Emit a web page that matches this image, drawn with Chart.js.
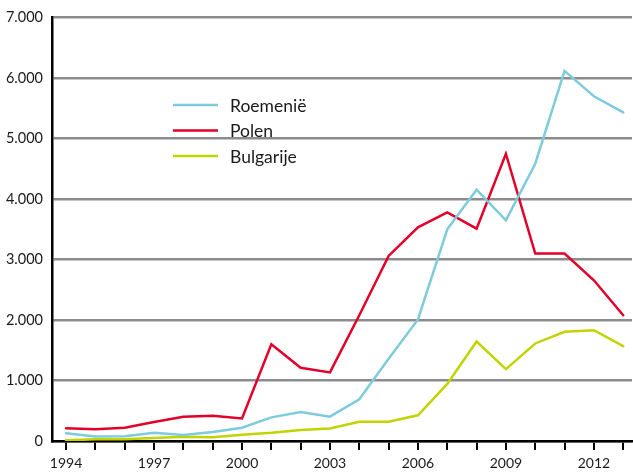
<!DOCTYPE html>
<html>
<head>
<meta charset="utf-8">
<script src="https://cdn.jsdelivr.net/npm/chart.js@4.4.1/dist/chart.umd.min.js"></script>
<style>
html,body{margin:0;padding:0;background:#fff;}
#wrap{position:relative;width:633px;height:472px;}
</style>
</head>
<body>
<div id="wrap"><canvas id="c" width="633" height="472"></canvas></div>
<script>
const years = [1994,1995,1996,1997,1998,1999,2000,2001,2002,2003,2004,2005,2006,2007,2008,2009,2010,2011,2012,2013];
const roemenie = [127,75,78,137,99,149,220,391,479,402,690,1360,2010,3500,4155,3650,4585,6120,5700,5435];
const polen = [209,193,220,314,402,418,374,1601,1211,1134,2080,3060,3533,3781,3511,4750,3099,3099,2658,2080];
const bulgarije = [11,28,28,50,71,61,104,137,182,206,319,319,426,945,1645,1189,1613,1805,1833,1568];
const seriesNames = ['Roemenië','Polen','Bulgarije'];
const yTicks = [0,1000,2000,3000,4000,5000,6000,7000];
const xLabelYears = [1994,1997,2000,2003,2006,2009,2012];

const colors = ['#7ecbdc','#e2002a','#c2d400'];
const FONT = 'Lato, "Open Sans", sans-serif';

function pts(arr){ return years.map((y,i)=>({x:y,y:arr[i]})); }

const legendPlugin = {
  id:'inlegend',
  afterDraw(chart){
    const ctx = chart.ctx;
    const rows = [105,130.5,156];
    ctx.save();
    chart.data.datasets.forEach((ds,i)=>{
      ctx.strokeStyle = ds.borderColor;
      ctx.lineWidth = 2.5;
      ctx.beginPath();
      ctx.moveTo(173, rows[i]);
      ctx.lineTo(218, rows[i]);
      ctx.stroke();
      ctx.fillStyle = '#1a1a1a';
      ctx.font = '17.5px ' + FONT;
      ctx.textBaseline = 'middle';
      ctx.textAlign = 'left';
      ctx.fillText(ds.label, 230, rows[i]+1);
    });
    ctx.restore();
  }
};

new Chart(document.getElementById('c'), {
  type:'line',
  data:{
    datasets:[
      {label:seriesNames[0], data:pts(roemenie), borderColor:colors[0], backgroundColor:colors[0]},
      {label:seriesNames[1], data:pts(polen), borderColor:colors[1], backgroundColor:colors[1]},
      {label:seriesNames[2], data:pts(bulgarije), borderColor:colors[2], backgroundColor:colors[2]}
    ]
  },
  options:{
    responsive:false,
    animation:false,
    devicePixelRatio:1,
    layout:{padding:{top:17,right:1,left:0,bottom:0}},
    elements:{
      line:{borderWidth:2.5,tension:0,borderCapStyle:'round',borderJoinStyle:'miter'},
      point:{radius:0,hoverRadius:0}
    },
    plugins:{legend:{display:false},tooltip:{enabled:false}},
    scales:{
      x:{
        type:'linear',
        min:1993.52,
        max:2013.3,
        afterBuildTicks(scale){ scale.ticks = years.map(v=>({value:v})); },
        afterFit(scale){ scale.height = 31; },
        border:{display:true,color:'#000',width:2.5},
        grid:{display:true,drawOnChartArea:false,drawTicks:true,tickLength:9,color:'#000',lineWidth:2},
        ticks:{
          autoSkip:false,
          maxRotation:0,
          padding:5,
          color:'#1a1a1a',
          font:{family:FONT,size:14},
          callback(v){ return xLabelYears.includes(v) ? String(v) : ''; }
        }
      },
      y:{
        min:0,max:7000,
        afterBuildTicks(scale){ scale.ticks = yTicks.map(v=>({value:v})); },
        afterFit(scale){ scale.width = 52; },
        border:{display:true,color:'#000',width:2.5},
        grid:{display:true,drawTicks:false,color:'#8c8c8c',lineWidth:2.5},
        ticks:{
          padding:9,
          color:'#1a1a1a',
          font:{family:FONT,size:14.5},
          callback(v){ return v===0 ? '0' : String(v/1000)+'.000'; }
        }
      }
    }
  },
  plugins:[legendPlugin]
});
</script>
</body>
</html>
